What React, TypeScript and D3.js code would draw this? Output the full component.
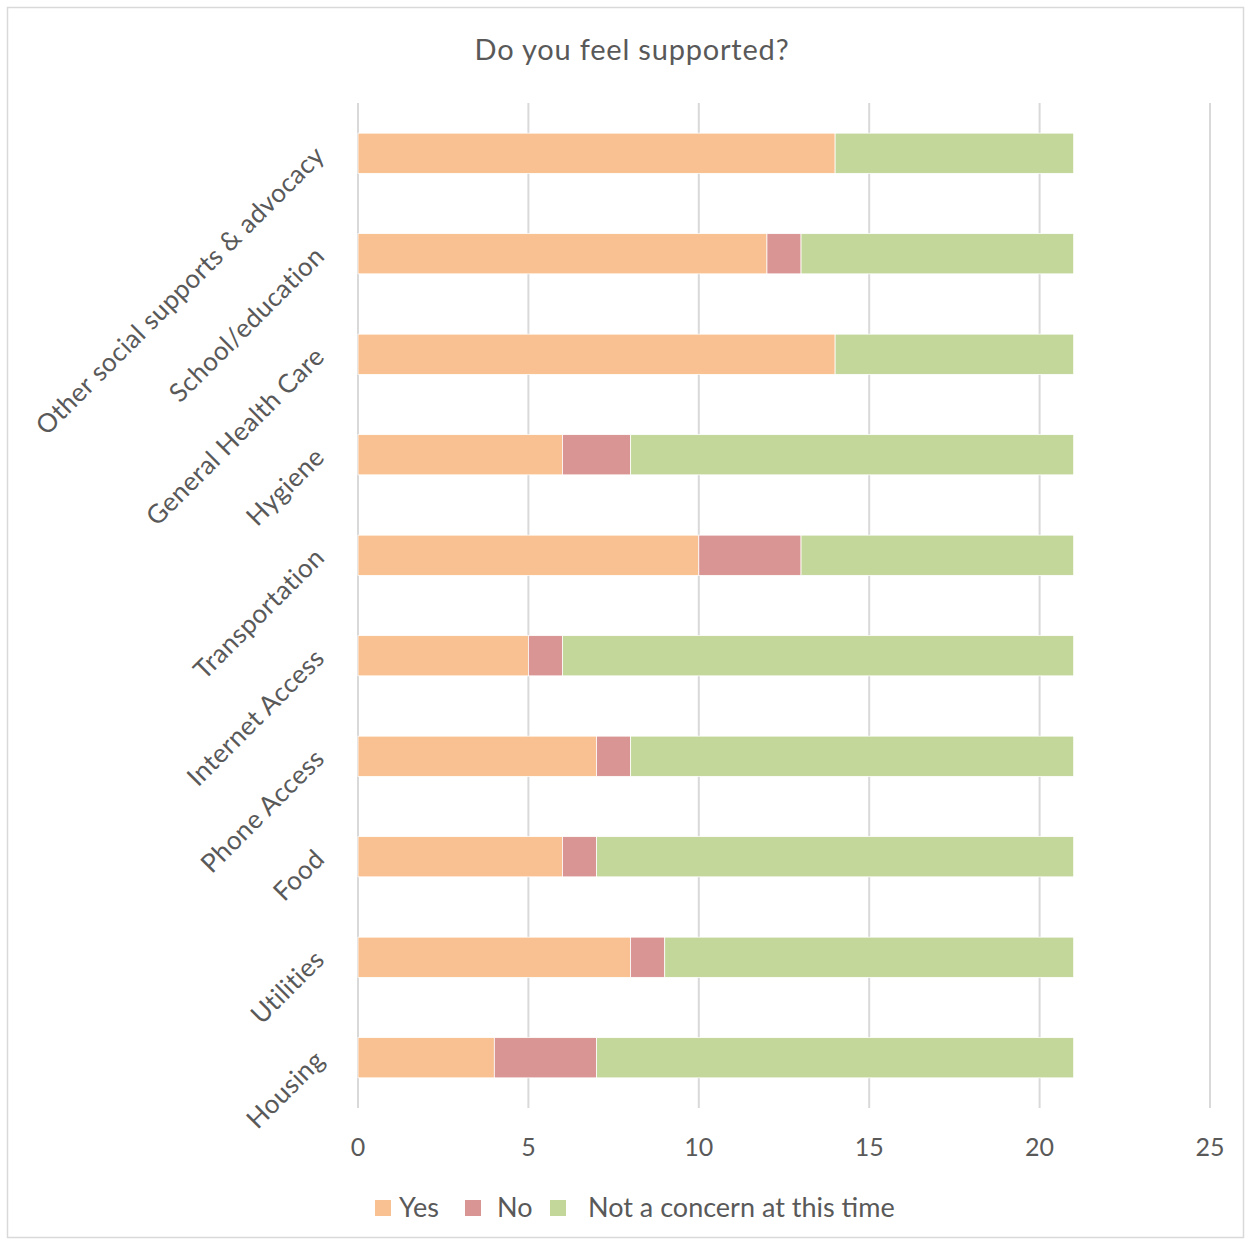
import React from "react";
import * as d3 from "d3";

const categories = [
  "Housing",
  "Utilities",
  "Food",
  "Phone Access",
  "Internet Access",
  "Transportation",
  "Hygiene",
  "General Health Care",
  "School/education",
  "Other social supports & advocacy",
];
const yesValues = [4, 8, 6, 7, 5, 10, 6, 14, 12, 14];
const noValues = [3, 1, 1, 1, 1, 3, 2, 0, 1, 0];
const notConcernValues = [14, 12, 14, 13, 15, 8, 13, 7, 8, 7];
const seriesNames = ["Yes", "No", "Not a concern at this time"];
const seriesColors = ["#F9C191", "#D99594", "#C4D79B"];
const xTicks = [0, 5, 10, 15, 20, 25];

const W = 1252;
const H = 1243;
const FONT = "Lato, 'Open Sans', sans-serif";
const TXT = "#595959";

export default function App() {
  const left = 358;
  const right = 1210;
  const top = 103;
  const bottom = 1108;

  const x = d3.scaleLinear().domain([0, 25]).range([left, right]);
  const y = d3
    .scaleBand<string>()
    .domain([...categories].reverse())
    .range([top, bottom])
    .paddingInner(0.6)
    .paddingOuter(0.3);

  const rows = categories.map((c, i) => ({
    cat: c,
    Yes: yesValues[i],
    No: noValues[i],
    Not: notConcernValues[i],
  }));
  const stack = d3.stack<any>().keys(["Yes", "No", "Not"])(rows);

  const legendItems = [
    { sx: 375, tx: 399 },
    { sx: 465, tx: 497 },
    { sx: 550, tx: 588 },
  ];

  return (
    <svg width={W} height={H} style={{ display: "block", position: "absolute", left: 0, top: 0 }}>
      <rect x={0} y={0} width={W} height={H} fill="#fff" />
      <rect x={7.5} y={7.5} width={1236} height={1230} fill="#fff" stroke="#D9D9D9" strokeWidth={1.5} />
      <text x={632} y={60} textAnchor="middle" fontFamily={FONT} fontSize={29} letterSpacing={0.8} fill={TXT}>
        Do you feel supported?
      </text>
      {xTicks.map((t) => (
        <g key={t}>
          <line x1={x(t)} x2={x(t)} y1={top} y2={bottom} stroke="#D9D9D9" strokeWidth={2} />
          <text x={x(t)} y={1156} textAnchor="middle" fontFamily={FONT} fontSize={25} fill={TXT}>
            {t}
          </text>
        </g>
      ))}
      {stack.map((s, si) => (
        <g key={si} fill={seriesColors[si]}>
          {s.map((d: any, i: number) => {
            const w = x(d[1]) - x(d[0]);
            if (w <= 0) return null;
            return (
              <rect
                key={i}
                x={x(d[0])}
                y={y(d.data.cat)!}
                width={w}
                height={y.bandwidth()}
                stroke="#fff"
                strokeWidth={0.75}
              />
            );
          })}
        </g>
      ))}
      {categories.map((c) => {
        const cy = y(c)! + y.bandwidth() / 2;
        return (
          <text
            key={c}
            transform={`translate(${326},${cy + 4}) rotate(-45)`}
            textAnchor="end"
            fontFamily={FONT}
            fontSize={26}
            letterSpacing={0.4}
            fill={TXT}
          >
            {c}
          </text>
        );
      })}
      {seriesNames.map((n, i) => (
        <g key={n}>
          <rect x={legendItems[i].sx} y={1200} width={16} height={16} fill={seriesColors[i]} />
          <text x={legendItems[i].tx} y={1217} fontFamily={FONT} fontSize={27} fill={TXT}>
            {n}
          </text>
        </g>
      ))}
    </svg>
  );
}
